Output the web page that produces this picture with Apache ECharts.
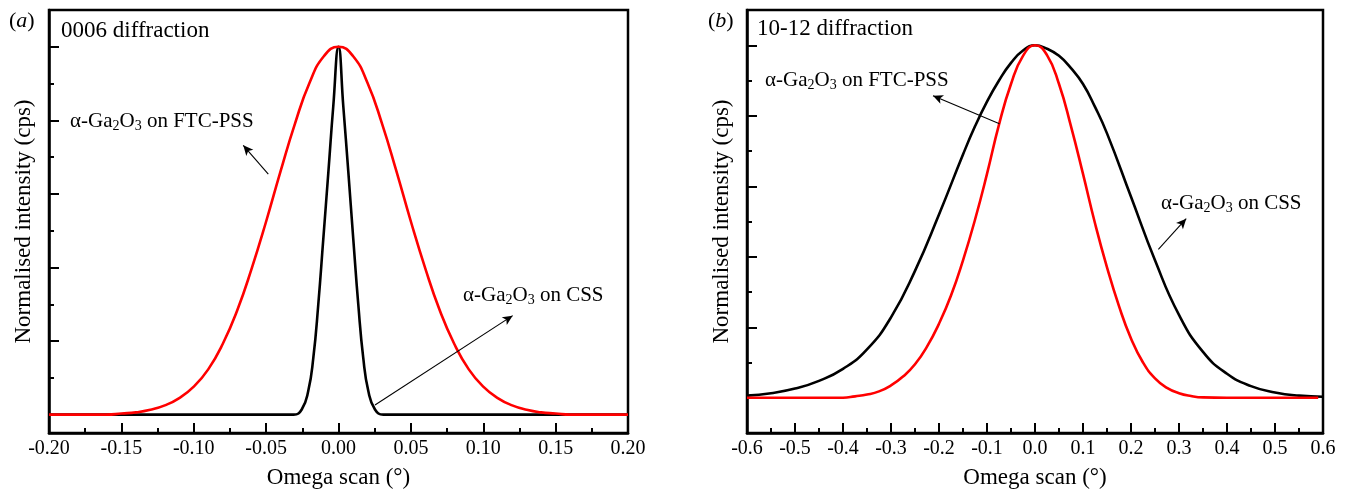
<!DOCTYPE html>
<html>
<head>
<meta charset="utf-8">
<script src="https://cdn.jsdelivr.net/npm/echarts@6/dist/echarts.min.js"></script>
<style>
  html, body { margin: 0; padding: 0; background: #fff; }
  #main { width: 1352px; height: 494px; }
</style>
</head>
<body>
<div id="main"></div>
<script>
// (a) 0006 diffraction
const aFtcX = [-0.20, -0.18, -0.16, -0.15, -0.14, -0.13, -0.12, -0.11, -0.10, -0.09, -0.08, -0.07, -0.06, -0.05, -0.04, -0.03, -0.02, -0.01, 0,
  0.01, 0.02, 0.03, 0.04, 0.05, 0.06, 0.07, 0.08, 0.09, 0.10, 0.11, 0.12, 0.13, 0.14, 0.15, 0.16, 0.18, 0.20]
const aFtcY = [0, 0, 0, 0.003, 0.006, 0.013, 0.025, 0.045, 0.076, 0.123, 0.192, 0.283, 0.397, 0.525, 0.662, 0.792, 0.902, 0.975, 1,
  0.975, 0.902, 0.792, 0.662, 0.525, 0.397, 0.283, 0.192, 0.123, 0.076, 0.045, 0.025, 0.013, 0.006, 0.003, 0, 0, 0]
const aCssX = [-0.20, -0.10, -0.04, -0.031, -0.0254, -0.0209, -0.0174, -0.014, -0.0105, -0.007, -0.0036, 0,
  0.0033, 0.0068, 0.0102, 0.0137, 0.0171, 0.0206, 0.0252, 0.031, 0.04, 0.10, 0.20]
const aCssY = [0, 0, 0, 0, 0.014, 0.064, 0.154, 0.298, 0.478, 0.659, 0.839, 1,
  0.839, 0.659, 0.478, 0.298, 0.154, 0.064, 0.014, 0, 0, 0, 0]

// (b) 10-12 diffraction
const bFtcX = [-0.60, -0.50, -0.40, -0.375, -0.35, -0.325, -0.30, -0.275, -0.25, -0.225, -0.20, -0.175, -0.15, -0.125, -0.10, -0.075, -0.05, -0.025, 0,
  0.025, 0.05, 0.075, 0.10, 0.125, 0.15, 0.175, 0.20, 0.225, 0.25, 0.275, 0.30, 0.325, 0.35, 0.40, 0.50, 0.59]
const bFtcY = [0, 0, 0, 0.004, 0.009, 0.018, 0.035, 0.06, 0.095, 0.145, 0.21, 0.29, 0.39, 0.505, 0.635, 0.775, 0.89, 0.97, 1,
  0.972, 0.89, 0.77, 0.635, 0.495, 0.37, 0.26, 0.168, 0.10, 0.055, 0.028, 0.013, 0.005, 0.001, 0, 0, 0]
const bCssX = [-0.60, -0.55, -0.50, -0.45, -0.40, -0.35, -0.30, -0.25, -0.20, -0.15, -0.125, -0.10, -0.075, -0.05, -0.025, 0,
  0.025, 0.05, 0.075, 0.10, 0.125, 0.15, 0.20, 0.25, 0.30, 0.35, 0.40, 0.45, 0.50, 0.55, 0.60]
const bCssY = [0.006, 0.013, 0.026, 0.048, 0.082, 0.137, 0.228, 0.36, 0.52, 0.69, 0.77, 0.84, 0.90, 0.95, 0.985, 1,
  0.99, 0.97, 0.935, 0.89, 0.825, 0.75, 0.57, 0.39, 0.235, 0.13, 0.068, 0.033, 0.015, 0.006, 0.003]

// y ticks (no labels)
const yMajorTicks = [0, 0.2, 0.4, 0.6, 0.8, 1.0]
const yMinorTicks = [0.1, 0.3, 0.5, 0.7, 0.9]

// arrows [from, to]
const aFtcArrow = [[-0.0485, 0.654], [-0.0658, 0.732]]
const aCssArrow = [[0.0252, 0.026], [0.1203, 0.269]]
const bFtcArrow = [[-0.074, 0.777], [-0.2125, 0.857]]
const bCssArrow = [[0.257, 0.421], [0.315, 0.508]]

const zip = (xs, ys) => xs.map((x, i) => [x, ys[i]])
const FONT = "'Liberation Serif', 'Times New Roman', serif"

var myChart = echarts.init(document.getElementById('main'))

function xAxisOf(grid, min, max, interval, digits) {
  return {
    gridIndex: grid, type: 'value', min: min, max: max, interval: interval,
    name: 'Omega scan (°)', nameLocation: 'middle', nameGap: 33,
    nameTextStyle: { fontFamily: FONT, fontSize: 23, color: '#000' },
    axisLine: { show: true, onZero: false, lineStyle: { color: '#000', width: 2.5 } },
    axisTick: { inside: true, length: 10, lineStyle: { color: '#000', width: 2 } },
    minorTick: { show: true, splitNumber: 2, length: 5, lineStyle: { color: '#000', width: 2 } },
    axisLabel: { margin: 6, fontFamily: FONT, fontSize: 20, color: '#000',
      formatter: v => v.toFixed(digits) },
    splitLine: { show: false }
  }
}

function yAxesOf(grid, min, max) {
  return [
    {
      gridIndex: grid, type: 'value', min: min, max: max,
      name: 'Normalised intensity (cps)', nameLocation: 'middle', nameGap: 14,
      nameTextStyle: { fontFamily: FONT, fontSize: 23, color: '#000' },
      axisLine: { show: true, onZero: false, lineStyle: { color: '#000', width: 2.5 } },
      axisTick: { show: true, inside: true, length: 10, customValues: yMajorTicks, lineStyle: { color: '#000', width: 2 } },
      axisLabel: { show: false },
      splitLine: { show: false }
    },
    {
      gridIndex: grid, type: 'value', min: min, max: max, position: 'left',
      axisLine: { show: false, onZero: false },
      axisTick: { show: true, inside: true, length: 5, customValues: yMinorTicks, lineStyle: { color: '#000', width: 2 } },
      axisLabel: { show: false },
      splitLine: { show: false }
    }
  ]
}

function arrow(pair) {
  return [{ coord: pair[0] }, { coord: pair[1] }]
}

function lineSeries(xi, yi, data, color, arrows) {
  return {
    type: 'line', xAxisIndex: xi, yAxisIndex: yi, data: data,
    showSymbol: false, smooth: 0.5,
    lineStyle: { color: color, width: 2.6 }, itemStyle: { color: color },
    animation: false, silent: true,
    markLine: arrows ? {
      silent: true, animation: false,
      symbol: ['none', 'arrow'], symbolSize: [7, 10],
      label: { show: false },
      lineStyle: { color: '#000', width: 1.1, type: 'solid' },
      data: arrows.map(arrow)
    } : undefined
  }
}

// subscript text for annotations
const richStyle = {
  n: { fontFamily: FONT, fontSize: 21, color: '#000', lineHeight: 24 },
  s: { fontFamily: FONT, fontSize: 14, color: '#000', lineHeight: 24, padding: [9, 0, 0, 0] },
  i: { fontFamily: FONT, fontSize: 22, color: '#000', fontStyle: 'italic', lineHeight: 24 },
  p: { fontFamily: FONT, fontSize: 22, color: '#000', lineHeight: 24 },
  t: { fontFamily: FONT, fontSize: 23, color: '#000', lineHeight: 24 }
}
function txt(x, y, s) {
  return { type: 'text', left: x, top: y, style: { text: s, rich: richStyle, fill: '#000' } }
}

var option = {
  backgroundColor: '#fff',
  animation: false,
  grid: [
    { left: 49, top: 10, width: 579, height: 425, show: true, borderColor: '#000', borderWidth: 2.5 },
    { left: 747, top: 10, width: 576, height: 425, show: true, borderColor: '#000', borderWidth: 2.5 }
  ],
  xAxis: [
    xAxisOf(0, -0.2, 0.2, 0.05, 2),
    xAxisOf(1, -0.6, 0.6, 0.1, 1)
  ],
  yAxis: [].concat(yAxesOf(0, -0.05, 1.1), yAxesOf(1, -0.1, 1.1)),
  series: [
    lineSeries(0, 0, zip(aCssX, aCssY), '#000'),
    lineSeries(0, 0, zip(aFtcX, aFtcY), '#ff0000', [aFtcArrow, aCssArrow]),
    lineSeries(1, 2, zip(bCssX, bCssY), '#000'),
    lineSeries(1, 2, zip(bFtcX, bFtcY), '#ff0000', [bFtcArrow, bCssArrow])
  ],
  graphic: [
    txt(9, 10, '{p|(}{i|a}{p|)}'),
    txt(61, 19, '{t|0006 diffraction}'),
    txt(70, 110, '{n|α-Ga}{s|2}{n|O}{s|3}{n| on FTC-PSS}'),
    txt(463, 284, '{n|α-Ga}{s|2}{n|O}{s|3}{n| on CSS}'),
    txt(708, 10, '{p|(}{i|b}{p|)}'),
    txt(757, 17, '{t|10-12 diffraction}'),
    txt(765, 69, '{n|α-Ga}{s|2}{n|O}{s|3}{n| on FTC-PSS}'),
    txt(1161, 192, '{n|α-Ga}{s|2}{n|O}{s|3}{n| on CSS}')
  ]
}

myChart.setOption(option)
</script>
</body>
</html>
